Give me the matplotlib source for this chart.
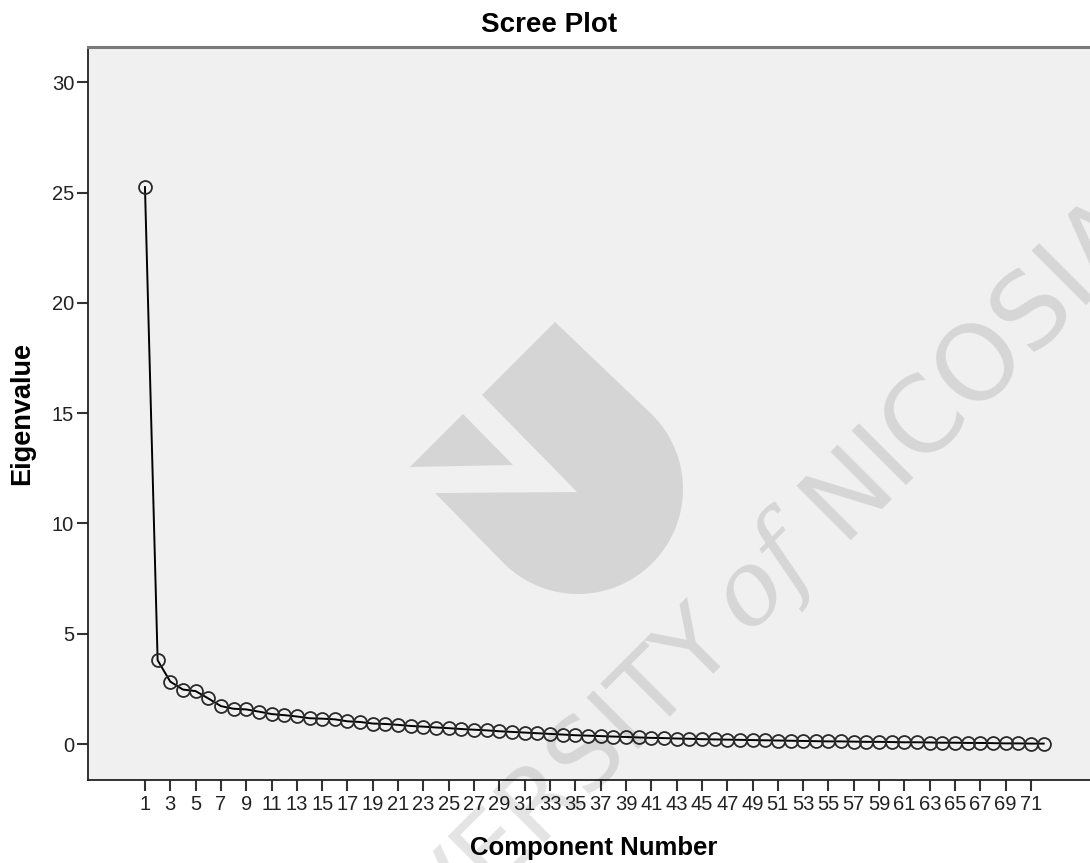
import numpy as np
import matplotlib
matplotlib.use("Agg")
import matplotlib.pyplot as plt
from matplotlib.patches import Polygon

# eigenvalues for the 72 components
components = list(range(1, 73))
eigenvalues = [
    25.25, 3.80, 2.83, 2.47, 2.40, 2.07, 1.72, 1.60, 1.57, 1.47,
    1.36, 1.31, 1.25, 1.17, 1.15, 1.12, 1.03, 1.00, 0.93, 0.91,
    0.87, 0.82, 0.79, 0.75, 0.72, 0.68, 0.65, 0.62, 0.58, 0.55,
    0.52, 0.49, 0.46, 0.43, 0.40, 0.38, 0.36, 0.34, 0.32, 0.30,
    0.28, 0.27, 0.25, 0.24, 0.22, 0.21, 0.20, 0.19, 0.18, 0.17,
    0.16, 0.15, 0.14, 0.13, 0.12, 0.12, 0.11, 0.10, 0.10, 0.09,
    0.08, 0.08, 0.07, 0.06, 0.06, 0.05, 0.05, 0.04, 0.03, 0.03,
    0.02, 0.02,
]
x_ticks = list(range(1, 72, 2))
y_ticks = [0, 5, 10, 15, 20, 25, 30]

W, H = 1090, 863
plt.rcParams['font.family'] = ['Liberation Sans', 'DejaVu Sans']

fig = plt.figure(figsize=(W / 100, H / 100), dpi=100)
ax = fig.add_axes([88 / W, 83 / H, 1 - 88 / W, (780 - 47) / H])
ax.set_facecolor('#f0f0f0')

ax.plot(components, eigenvalues, color='black', linewidth=1.4,
        marker='o', markersize=9.3, markerfacecolor='none',
        markeredgecolor='#2a2a2a', markeredgewidth=1.3, zorder=3)

ax.set_xlim(-3.5, 75.66)
ax.set_ylim(-1.63, 31.6)
ax.set_xticks(x_ticks)
ax.set_yticks(y_ticks)
ax.tick_params(axis='both', direction='out', length=8, width=1.5,
               color='#333333', labelsize=14.5, labelcolor='#222222')
ax.tick_params(axis='x', pad=3)
ax.tick_params(axis='y', pad=2)

ax.spines['right'].set_visible(False)
ax.spines['top'].set_color('#7a7a7a')
ax.spines['top'].set_linewidth(2.2)
for side in ['left', 'bottom']:
    ax.spines[side].set_color('#222222')
    ax.spines[side].set_linewidth(1.3)

fig.text(549 / W, 1 - 25 / H, 'Scree Plot', ha='center', va='center',
         fontsize=20, fontweight='bold')
fig.text(594 / W, 1 - 848 / H, 'Component Number', ha='center', va='center',
         fontsize=18.5, fontweight='bold')
fig.text(22 / W, 1 - 413 / H, 'Eigenvalue', ha='center', va='center',
         rotation=90, fontsize=19.5, fontweight='bold')

# university watermark: logo and lettering along a 45 degree line
shade = dict(facecolor='black', alpha=0.11, edgecolor='none')
cx, cy, r = 578, 374, 105
arc = np.radians(np.linspace(225, 405, 60))
logo = [(555, 541), (482, 468), (577, 371), (435, 370)]
logo += [(cx + r * np.cos(a), cy + r * np.sin(a)) for a in arc]
fig.add_artist(Polygon([(px / W, py / H) for px, py in logo],
                       closed=True, transform=fig.transFigure, **shade))
tri = [(410, 396), (463, 449), (513, 398)]
fig.add_artist(Polygon([(px / W, py / H) for px, py in tri],
                       closed=True, transform=fig.transFigure, **shade))


def along(s):
    return (693 + s / np.sqrt(2)) / W, (216 + s / np.sqrt(2)) / H


mark = dict(color='black', alpha=0.11, rotation=45, rotation_mode='anchor',
            va='center', transform=fig.transFigure)
fig.text(*along(34), 'UNIVERSITY', ha='right', fontsize=72,
         family='DejaVu Sans', **mark)
fig.text(*along(98), 'of', ha='center', fontsize=74, style='italic',
         family='DejaVu Serif', **mark)
fig.text(*along(180), 'NICOSIA', ha='left', fontsize=76,
         family='DejaVu Sans', **mark)

fig.savefig('out.png', dpi=100)
